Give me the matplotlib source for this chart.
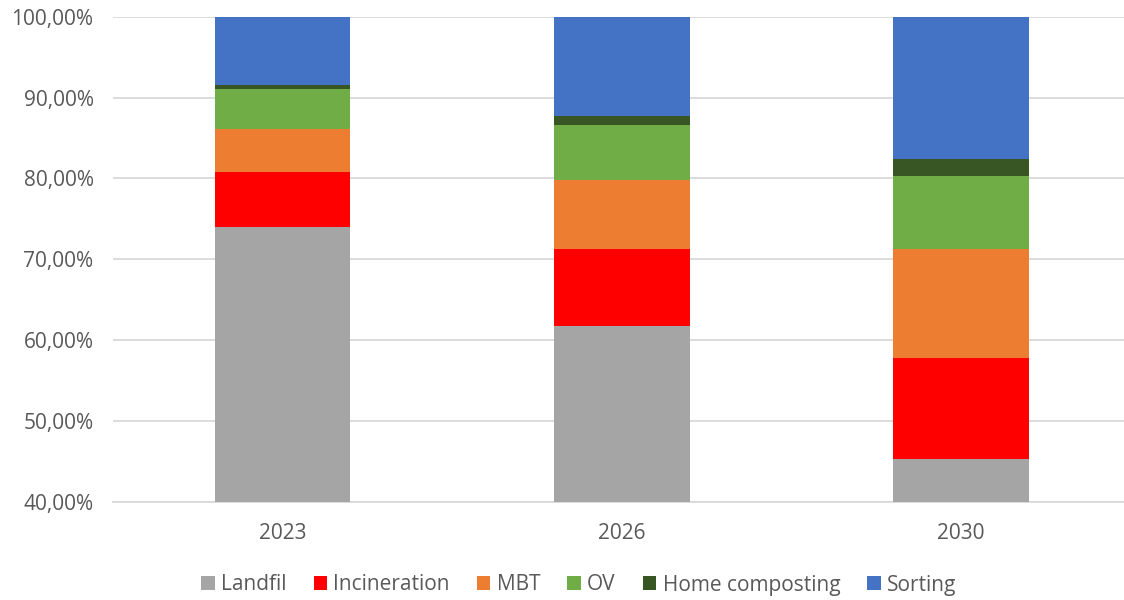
import matplotlib
matplotlib.use("Agg")
import matplotlib.pyplot as plt
import numpy as np
from matplotlib.ticker import FuncFormatter

plt.rcParams["font.family"] = ["Open Sans", "DejaVu Sans"]

years = ["2023", "2026", "2030"]
landfil = [74.00, 61.78, 45.27]
incineration = [6.83, 9.50, 12.51]
mbt = [5.31, 8.56, 13.50]
ov = [4.97, 6.75, 9.05]
home_composting = [0.46, 1.19, 2.10]
sorting = [8.43, 12.22, 17.57]

series = [
    ("Landfil", landfil, "#a5a5a5"),
    ("Incineration", incineration, "#ff0000"),
    ("MBT", mbt, "#ed7d31"),
    ("OV", ov, "#70ad47"),
    ("Home composting", home_composting, "#375623"),
    ("Sorting", sorting, "#4472c4"),
]

fig = plt.figure(figsize=(11.24, 6), dpi=100)
ax = fig.add_axes([0.1005, 0.1633, 0.8995, 0.8089])

x = np.arange(len(years))
bottom = np.zeros(len(years))
for name, vals, col in series:
    ax.bar(x, vals, 0.40, bottom=bottom, color=col, label=name, zorder=3)
    bottom += np.array(vals)

ax.set_ylim(40, 100)
ax.set_xlim(-0.5, 2.48)
ax.set_yticks(np.arange(40, 101, 10))
ax.yaxis.set_major_formatter(FuncFormatter(lambda v, p: f"{v:.2f}%".replace(".", ",")))
ax.set_xticks(x)
ax.set_xticklabels(years)
ax.grid(axis="y", color="#d9d9d9", lw=1.3, zorder=0)
for s in ["top", "right", "left"]:
    ax.spines[s].set_visible(False)
ax.spines["bottom"].set_color("#d9d9d9")
ax.spines["bottom"].set_linewidth(1.3)
ax.tick_params(length=0, labelsize=15, colors="#595959")
ax.tick_params(axis="x", pad=15)
ax.tick_params(axis="y", pad=14)

leg = fig.legend(loc="center", bbox_to_anchor=(0.515, 0.025), ncol=6, frameon=False,
                 fontsize=15, handlelength=0.65, handleheight=0.65, handletextpad=0.3,
                 columnspacing=1.3)
for t in leg.get_texts():
    t.set_color("#595959")

fig.savefig("out.png", dpi=100)
